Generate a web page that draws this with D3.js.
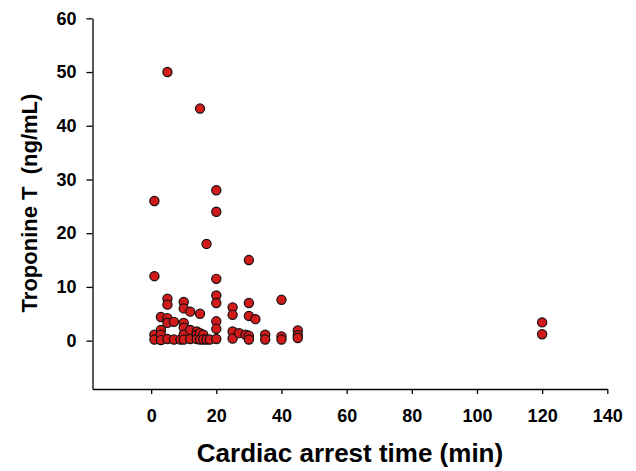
<!DOCTYPE html>
<html>
<head>
<meta charset="utf-8">
<script src="https://cdn.jsdelivr.net/npm/d3@7"></script>
<style>
  html, body { margin: 0; padding: 0; background: #fff; }
  svg { display: block; }
  text { font-family: "Liberation Sans", Arial, sans-serif; font-weight: bold; fill: #000; }
</style>
</head>
<body>
<svg id="chart" width="636" height="471"></svg>
<script>
// Data
const arrestTime = [
  1, 1, 1, 1,
  3, 3, 3, 3,
  5, 5, 5, 5, 5, 5,
  7, 7,
  9,
  10, 10, 10, 10, 10, 10,
  12, 12, 12,
  14, 14, 14,
  15, 15, 15, 15,
  16, 16,
  17, 17,
  18,
  20, 20, 20, 20, 20, 20, 20, 20,
  25, 25, 25, 25,
  27,
  29,
  30, 30, 30, 30, 30,
  32,
  35, 35,
  40, 40, 40,
  45, 45, 45,
  120, 120
];
const troponinT = [
  26, 12, 1.1, 0.2,
  4.4, 2.0, 1.1, 0.1,
  50, 7.8, 6.7, 4.2, 3.3, 0.3,
  3.5, 0.2,
  0.2,
  7.2, 6.0, 3.3, 2.4, 1.1, 0.2,
  5.4, 2.0, 0.3,
  1.7, 1.1, 0.3,
  43.2, 5.0, 1.4, 0.2,
  1.1, 0.2,
  18, 0.2,
  0.2,
  28, 24, 11.5, 8.4, 7.0, 3.6, 2.2, 0.3,
  6.2, 4.8, 1.7, 0.4,
  1.4,
  1.1,
  15, 7.0, 4.6, 0.9, 0.2,
  4.0,
  1.1, 0.2,
  7.6, 0.8, 0.2,
  1.9, 1.0, 0.5,
  3.4, 1.2
];
const xTicks = [0, 20, 40, 60, 80, 100, 120, 140];
const yTicks = [0, 10, 20, 30, 40, 50, 60];
const xTitle = "Cardiac arrest time (min)";
const yTitle = "Troponine T  (ng/mL)";

(function () {
  const points = arrestTime.map((t, i) => ({ x: t, y: troponinT[i] }));

  const svg = d3.select("#chart");
  const mLeft = 92.5, mRight = 607.3, mTop = 18.3, mBottom = 389;

  const x = d3.scaleLinear().domain([-18, 140]).range([mLeft, mRight]);
  const y = d3.scaleLinear().domain([-9, 60]).range([mBottom, mTop]);

  const xAxis = svg.append("g")
    .attr("transform", `translate(0,${mBottom})`)
    .call(d3.axisBottom(x).tickValues(xTicks).tickFormat(d3.format("d"))
      .tickSizeInner(5).tickSizeOuter(0).tickPadding(15));

  const yAxis = svg.append("g")
    .attr("transform", `translate(${mLeft},0)`)
    .call(d3.axisLeft(y).tickValues(yTicks).tickFormat(d3.format("d"))
      .tickSizeInner(6).tickSizeOuter(0).tickPadding(10));

  [xAxis, yAxis].forEach(g => {
    g.select(".domain").attr("stroke", "#000").attr("stroke-width", 1.3);
    g.selectAll(".tick line").attr("stroke", "#000").attr("stroke-width", 1.3);
    g.selectAll(".tick text")
      .attr("font-family", "Liberation Sans, Arial, sans-serif")
      .attr("font-weight", "bold")
      .attr("font-size", 18)
      .attr("fill", "#000");
  });

  svg.append("g")
    .selectAll("circle")
    .data(points)
    .join("circle")
    .attr("cx", d => x(d.x))
    .attr("cy", d => y(d.y))
    .attr("r", 4.6)
    .attr("fill", "#d11a1a")
    .attr("stroke", "#111")
    .attr("stroke-width", 1.2);

  svg.append("text")
    .attr("x", 350)
    .attr("y", 462)
    .attr("text-anchor", "middle")
    .attr("font-size", 26)
    .text(xTitle);

  svg.append("text")
    .attr("transform", `translate(37,203) rotate(-90)`)
    .attr("text-anchor", "middle")
    .attr("font-size", 22)
    .style("white-space", "pre")
    .text(yTitle);
})();
</script>
</body>
</html>
